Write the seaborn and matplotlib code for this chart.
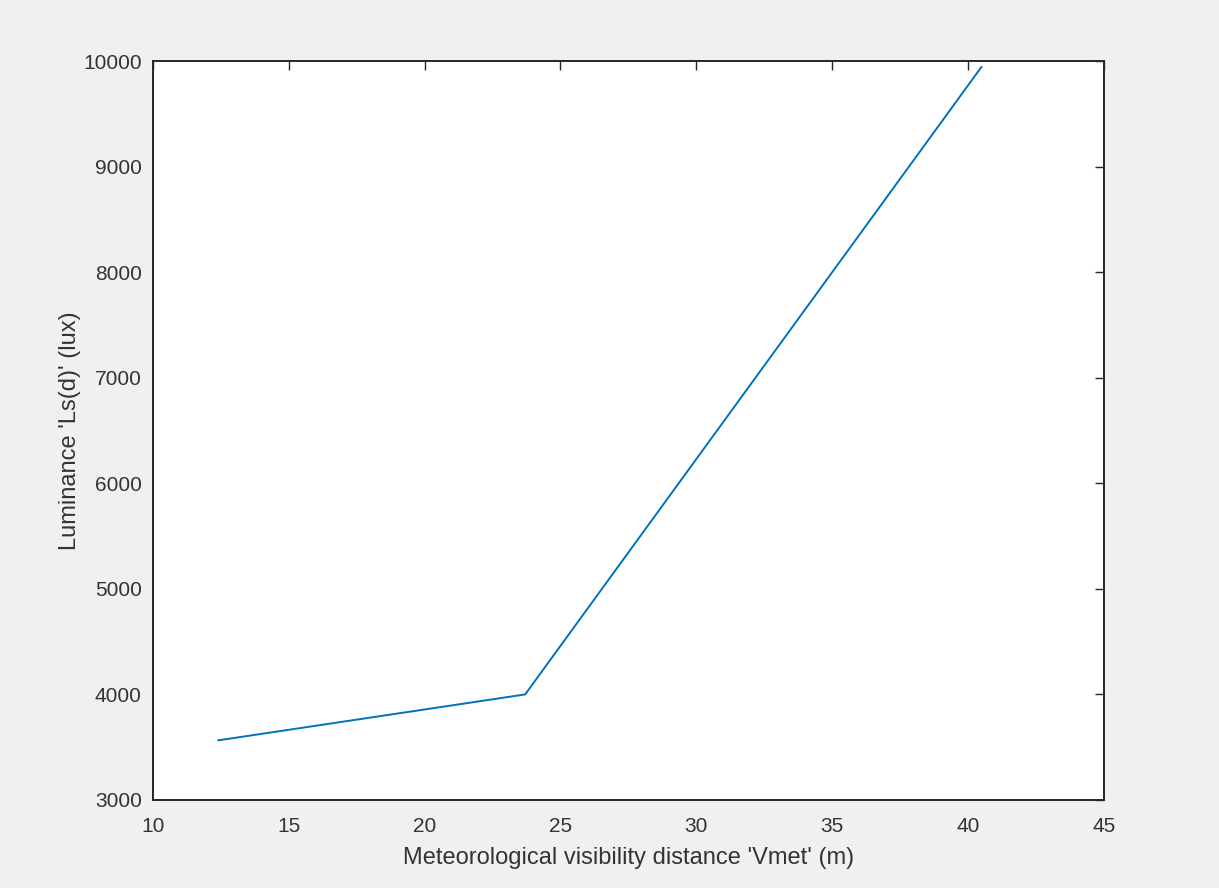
import numpy as np
import pandas as pd
import seaborn as sns
import matplotlib
matplotlib.use("Agg")
import matplotlib.pyplot as plt

# values
vmet = [12.4, 23.7, 40.5]
luminance = [3565, 4000, 9945]
x_ticks = [10, 15, 20, 25, 30, 35, 40, 45]
y_ticks = [3000, 4000, 5000, 6000, 7000, 8000, 9000, 10000]

df = pd.DataFrame({"Vmet": vmet, "Ls": luminance})

sns.set_style("white")
plt.rcParams["font.family"] = ["Liberation Sans", "DejaVu Sans"]

text_col = "#333333"

fig = plt.figure(figsize=(12.19, 8.88), dpi=100, facecolor="#f0f0f0")
ax = fig.add_axes([0.1255, 0.0991, 0.78, 0.8322])
ax.set_facecolor("white")

sns.lineplot(data=df, x="Vmet", y="Ls", sort=False, color="#0072BD",
             linewidth=1.4, ax=ax)

ax.set_xlim(10, 45)
ax.set_ylim(3000, 10000)
ax.set_xticks(x_ticks)
ax.set_yticks(y_ticks)
ax.tick_params(direction="in", length=6.5, width=1, colors="#262626",
               labelcolor=text_col, labelsize=15, top=True, right=True)
ax.tick_params(axis="x", pad=12)
ax.tick_params(axis="y", pad=8)
for s in ax.spines.values():
    s.set_color("#262626")
    s.set_linewidth(1.4)

ax.set_xlabel("Meteorological visibility distance 'Vmet' (m)", fontsize=17,
              color=text_col, labelpad=8)
ax.set_ylabel("Luminance 'Ls(d)' (lux)", fontsize=17, color=text_col,
              labelpad=1.5)

fig.savefig("out.png", dpi=100, facecolor=fig.get_facecolor())
